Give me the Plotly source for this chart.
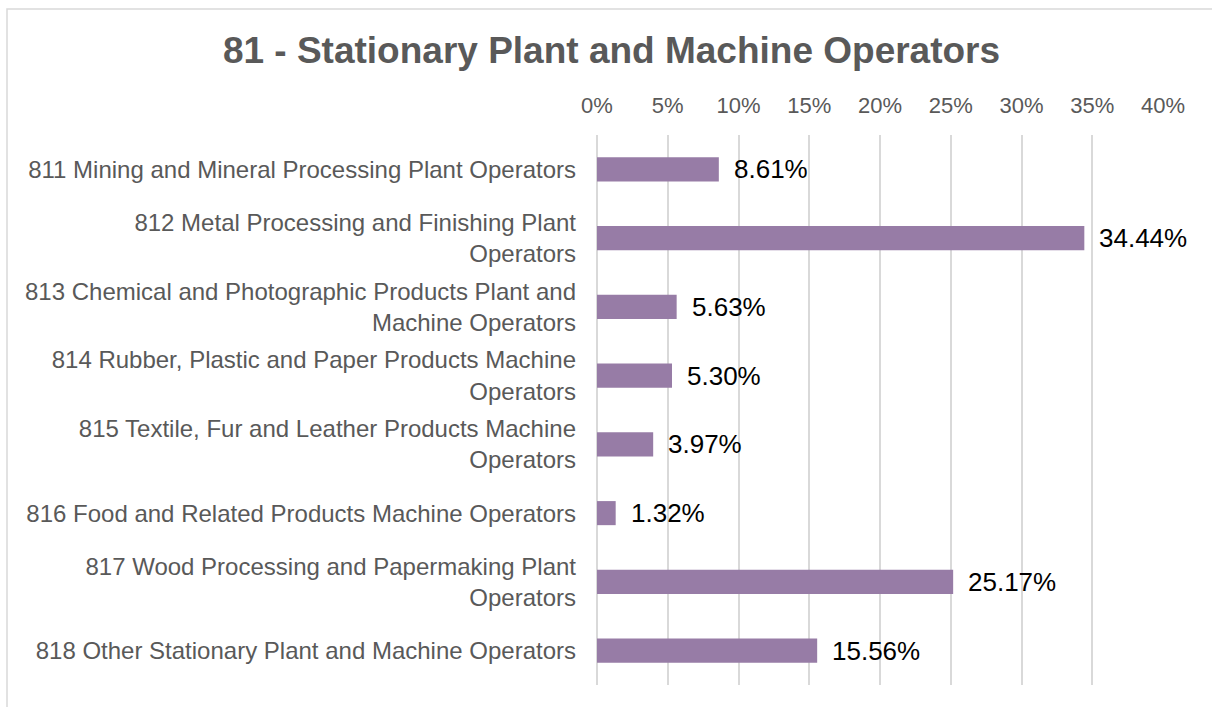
import plotly.graph_objects as go

categories = [
    "811 Mining and Mineral Processing Plant Operators",
    "812 Metal Processing and Finishing Plant<br>Operators",
    "813 Chemical and Photographic Products Plant and<br>Machine Operators",
    "814 Rubber, Plastic and Paper Products Machine<br>Operators",
    "815 Textile, Fur and Leather Products Machine<br>Operators",
    "816 Food and Related Products Machine Operators",
    "817 Wood Processing and Papermaking Plant<br>Operators",
    "818 Other Stationary Plant and Machine Operators",
]
values = [0.0861, 0.3444, 0.0563, 0.0530, 0.0397, 0.0132, 0.2517, 0.1556]
tick_vals = [0, 0.05, 0.10, 0.15, 0.20, 0.25, 0.30, 0.35, 0.40]
tick_text = ["0%", "5%", "10%", "15%", "20%", "25%", "30%", "35%", "40%"]
title = "81 - Stationary Plant and Machine Operators"

W, H = 1212, 707
L, R, T, B = 597, 49, 135, 22
pw, ph = W - L - R, H - T - B

fig = go.Figure()
fig.add_trace(go.Bar(
    x=values, y=categories, orientation="h",
    marker=dict(color="#977CA6", line=dict(width=0)),
    width=0.35, hoverinfo="skip",
))

for c, v in zip(categories, values):
    fig.add_annotation(
        x=v, y=c, xref="x", yref="y", text=f"{v*100:.2f}%",
        showarrow=False, xanchor="left", yanchor="middle", xshift=13,
        font=dict(family="Liberation Sans, Arial", size=26, color="#000000"),
    )

fig.add_shape(
    type="rect", xref="paper", yref="paper",
    x0=(7 - L) / pw, x1=1.3, y0=-0.3, y1=1 + (T - 9) / ph,
    line=dict(color="#d9d9d9", width=1.5), fillcolor="rgba(0,0,0,0)", layer="below",
)

fig.update_layout(
    width=W, height=H,
    margin=dict(l=L, r=R, t=T, b=B, autoexpand=False),
    paper_bgcolor="white", plot_bgcolor="white",
    showlegend=False,
    title=dict(
        text=f"<b>{title}</b>", xref="container", yref="container",
        x=611.5 / W, y=1 - 50 / H, xanchor="center", yanchor="middle",
        font=dict(family="Liberation Sans, Arial", size=37, color="#595959"),
    ),
    xaxis=dict(
        side="top", range=[0, 0.40], tickvals=tick_vals, ticktext=tick_text,
        showgrid=True, gridcolor="#d9d9d9", gridwidth=2,
        zeroline=True, zerolinecolor="#d9d9d9", zerolinewidth=2,
        showline=False, ticks="", ticklabelstandoff=17,
        tickfont=dict(family="Liberation Sans, Arial", size=22, color="#595959"),
        fixedrange=True,
    ),
    yaxis=dict(
        autorange="reversed", showgrid=False, zeroline=False, showline=False,
        ticks="", ticklabelstandoff=20,
        tickfont=dict(family="Liberation Sans, Arial", size=24, color="#595959"),
        fixedrange=True,
    ),
)

fig.write_html(
    "out.html",
    config={"displayModeBar": False},
    post_script="document.body.style.margin='0';document.body.style.overflow='hidden';",
)
